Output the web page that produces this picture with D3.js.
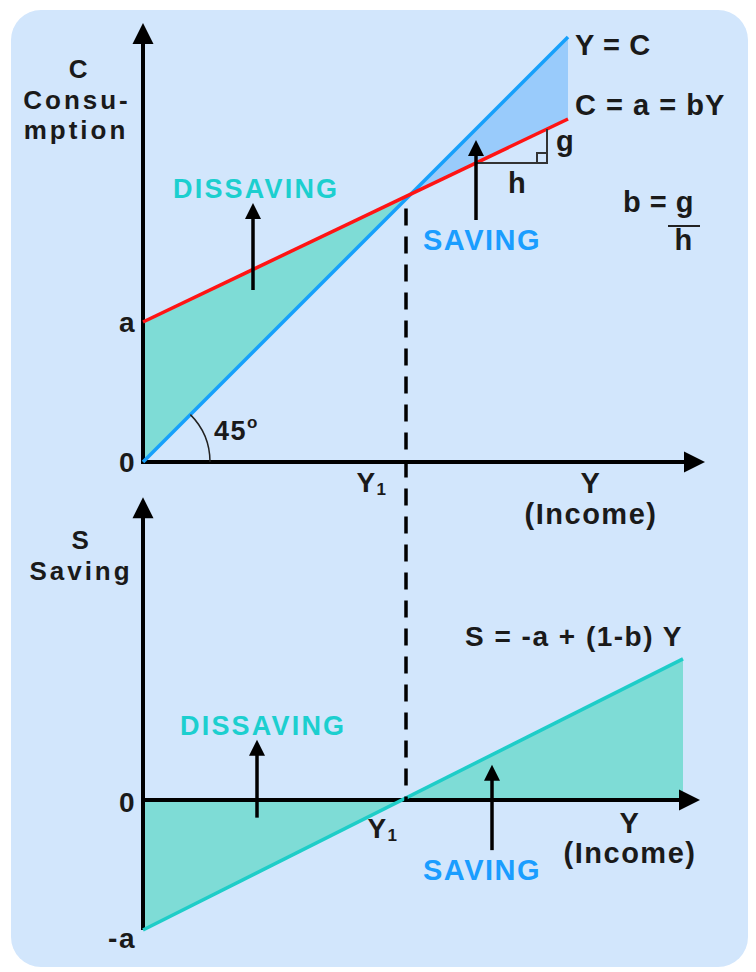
<!DOCTYPE html>
<html>
<head>
<meta charset="utf-8">
<script src="https://cdn.jsdelivr.net/npm/d3@7"></script>
<style>
  body { margin: 0; background: #ffffff; }
  text { font-family: "Liberation Sans", Arial, sans-serif; font-weight: bold; fill: #1a1a1a; letter-spacing: 1.5px; }
</style>
</head>
<body>
<svg></svg>
<script>
// values (income / consumption units)
var a = 140;
var consumption = [[0, 140], [425, 343]];     // C = a + bY
var fortyFive = [[0, 0], [425, 425]];         // Y = C
var saving = [[0, -140], [540, 152]];         // S = -a + (1-b)Y
var Y1 = 263;
var slopeRun = [333, 404];                    // the g / h triangle
var topTicks = [["a", 140], ["0", 0]];
var bottomTicks = [["0", 0], ["-a", -140]];

var width = 756;
var height = 972;
var svg = d3.select("svg")
            .attr("width", width)
            .attr("height", height);

var xTop = d3.scaleLinear().domain([0, 562]).range([143, 705]);
var yTop = d3.scaleLinear().domain([0, 439]).range([462, 23]);
var xBot = d3.scaleLinear().domain([0, 562]).range([143, 705]);
var yBot = d3.scaleLinear().domain([-140, 0]).range([930, 800]);

var teal = "#7edcd6";
var tealLine = "#1ecdc8";
var blue = "#17a0fb";
var red = "#ff1414";

// panel
svg.append("rect")
   .attr("x", 11).attr("y", 10)
   .attr("width", 737).attr("height", 957)
   .attr("rx", 30)
   .attr("fill", "#d2e6fc");

function pts(arr, x, y) {
  return arr.map(function(d) { return x(d[0]) + "," + y(d[1]); }).join(" ");
}

// where C line meets 45 line
var bSlope = (consumption[1][1] - consumption[0][1]) / (consumption[1][0] - consumption[0][0]);
var cross = consumption[0][1] / (1 - bSlope);
var cAt = function(v) { return consumption[0][1] + bSlope * v; };
var sSlope = (saving[1][1] - saving[0][1]) / (saving[1][0] - saving[0][0]);
var sCross = -saving[0][1] / sSlope;

// fills, top
svg.append("polygon")
   .attr("points", pts([[0, a], [cross, cross], [0, 0]], xTop, yTop))
   .attr("fill", teal);
svg.append("polygon")
   .attr("points", pts([[cross, cross], fortyFive[1], consumption[1]], xTop, yTop))
   .attr("fill", "#99cbfb");

// fills, bottom
svg.append("polygon")
   .attr("points", pts([[0, 0], saving[0], [sCross, 0]], xBot, yBot))
   .attr("fill", teal);
svg.append("polygon")
   .attr("points", pts([[sCross, 0], saving[1], [saving[1][0], 0]], xBot, yBot))
   .attr("fill", teal);

var line = function(x, y) {
  return d3.line().x(function(d) { return x(d[0]); }).y(function(d) { return y(d[1]); });
};

// axes
function arrowUp(x, yTip, w, h) {
  svg.append("path")
     .attr("d", "M" + x + "," + yTip + "L" + (x - w / 2) + "," + (yTip + h) + "L" + (x + w / 2) + "," + (yTip + h) + "Z")
     .attr("fill", "#000");
}
function arrowRight(xTip, y, w, h) {
  svg.append("path")
     .attr("d", "M" + xTip + "," + y + "L" + (xTip - h) + "," + (y - w / 2) + "L" + (xTip - h) + "," + (y + w / 2) + "Z")
     .attr("fill", "#000");
}

var axisW = 4;
svg.append("line")
   .attr("x1", xTop(0)).attr("y1", yTop(0) + 2)
   .attr("x2", xTop(0)).attr("y2", yTop(439) + 15)
   .attr("stroke", "#000").attr("stroke-width", axisW);
arrowUp(xTop(0), yTop(439), 21, 21);
svg.append("line")
   .attr("x1", xTop(0)).attr("y1", yTop(0))
   .attr("x2", xTop(562) - 15).attr("y2", yTop(0))
   .attr("stroke", "#000").attr("stroke-width", axisW);
arrowRight(xTop(562), yTop(0), 21, 21);

svg.append("line")
   .attr("x1", xBot(0)).attr("y1", yBot(-140))
   .attr("x2", xBot(0)).attr("y2", yBot(326) + 15)
   .attr("stroke", "#000").attr("stroke-width", axisW);
arrowUp(xBot(0), yBot(326), 21, 21);
svg.append("line")
   .attr("x1", xBot(0)).attr("y1", yBot(0))
   .attr("x2", xBot(557) - 15).attr("y2", yBot(0))
   .attr("stroke", "#000").attr("stroke-width", axisW);
arrowRight(xBot(557), yBot(0), 21, 21);

// lines
svg.append("path").datum(fortyFive)
   .attr("d", line(xTop, yTop))
   .attr("fill", "none").attr("stroke", blue).attr("stroke-width", 3.5);
svg.append("path").datum(consumption)
   .attr("d", line(xTop, yTop))
   .attr("fill", "none").attr("stroke", red).attr("stroke-width", 3.5);
svg.append("path").datum(saving)
   .attr("d", line(xBot, yBot))
   .attr("fill", "none").attr("stroke", tealLine).attr("stroke-width", 3.5);

// dashed guide
svg.append("line")
   .attr("x1", xTop(Y1)).attr("y1", yTop(cAt(Y1)) + 12)
   .attr("x2", xTop(Y1)).attr("y2", yBot(0) + 2)
   .attr("stroke", "#000").attr("stroke-width", 3.5)
   .attr("stroke-dasharray", "17,11");

// 45 degree arc
var arc = d3.arc()({ innerRadius: 67, outerRadius: 67, startAngle: Math.PI / 4, endAngle: Math.PI / 2 });
svg.append("path")
   .attr("d", arc)
   .attr("transform", "translate(" + xTop(0) + "," + yTop(0) + ")")
   .attr("fill", "none").attr("stroke", "#222").attr("stroke-width", 1.5);

// slope triangle
var gy1 = yTop(cAt(slopeRun[0]));
var gy2 = yTop(cAt(slopeRun[1]));
var gx1 = xTop(slopeRun[0]);
var gx2 = xTop(slopeRun[1]);
svg.append("path")
   .attr("d", "M" + gx1 + "," + gy1 + "L" + gx2 + "," + gy1 + "L" + gx2 + "," + gy2 +
              "M" + (gx2 - 10) + "," + gy1 + "L" + (gx2 - 10) + "," + (gy1 - 10) + "L" + gx2 + "," + (gy1 - 10))
   .attr("fill", "none").attr("stroke", "#333").attr("stroke-width", 2);

// small direction arrows
function pointer(x, yFrom, yTip) {
  svg.append("line")
     .attr("x1", x).attr("y1", yFrom)
     .attr("x2", x).attr("y2", yTip + 12)
     .attr("stroke", "#000").attr("stroke-width", 3.5);
  arrowUp(x, yTip, 16, 16);
}
pointer(xTop(110), yTop(172), yTop(259));
pointer(xTop(333), yTop(242), yTop(322));
pointer(xBot(114), yBot(-19), yBot(65));
pointer(xBot(349), yBot(-54), yBot(38));

// tick labels
svg.selectAll("text.ttick")
   .data(topTicks)
   .enter()
   .append("text")
   .attr("class", "ttick")
   .attr("x", xTop(0) - 7)
   .attr("y", function(d) { return yTop(d[1]) + 10; })
   .attr("text-anchor", "end")
   .attr("font-size", 28)
   .text(function(d) { return d[0]; });
svg.selectAll("text.btick")
   .data(bottomTicks)
   .enter()
   .append("text")
   .attr("class", "btick")
   .attr("x", xBot(0) - 7)
   .attr("y", function(d) { return yBot(d[1]) + 12 + (d[1] < 0 ? 6 : 0); })
   .attr("text-anchor", "end")
   .attr("font-size", 28)
   .text(function(d) { return d[0]; });

function label(txt, x, y, size, anchor, color) {
  return svg.append("text")
     .attr("x", x).attr("y", y)
     .attr("font-size", size)
     .attr("text-anchor", anchor || "start")
     .style("fill", color || "#1a1a1a")
     .text(txt);
}
function sub(x, y, anchor) {
  var t = label("Y", x, y, 28, anchor);
  t.append("tspan").attr("font-size", 17).attr("dy", 3).text("1");
}

label("C", 79, 78, 26, "middle");
label("Consu-", 77, 109, 26, "middle").style("letter-spacing", "3px");
label("mption", 76, 139, 26, "middle").style("letter-spacing", "3px");
label("DISSAVING", 173, 198, 27, "start", "#1ccfcf").style("letter-spacing", "2.2px");
label("SAVING", 423, 250, 29, "start", "#1a9dff");
label("Y = C", 575, 55, 29).style("letter-spacing", "0.6px");
label("C = a = bY", 575, 115, 29).style("letter-spacing", "1px");
label("g", 556, 151, 29);
label("h", 508, 193, 29);
label("b = g", 623, 212, 29).style("letter-spacing", "0.5px");
svg.append("line")
   .attr("x1", 668).attr("x2", 700).attr("y1", 226).attr("y2", 226)
   .attr("stroke", "#222").attr("stroke-width", 2);
label("h", 684, 250, 29, "middle");
var deg = label("45", 214, 440, 27);
deg.append("tspan").attr("font-size", 17).attr("dy", -12).text("o");
sub(372, 492, "middle");
label("Y", 591, 493, 29, "middle");
label("(Income)", 591, 524, 29, "middle");

label("S", 81, 549, 26, "middle");
label("Saving", 81, 580, 26, "middle").style("letter-spacing", "3px");
label("DISSAVING", 180, 735, 27, "start", "#1ccfcf").style("letter-spacing", "2.2px");
label("S = -a + (1-b) Y", 465, 646, 28);
sub(383, 838, "middle");
label("Y", 630, 833, 29, "middle");
label("(Income)", 630, 863, 29, "middle");
label("SAVING", 423, 880, 29, "start", "#1a9dff");
</script>
</body>
</html>
